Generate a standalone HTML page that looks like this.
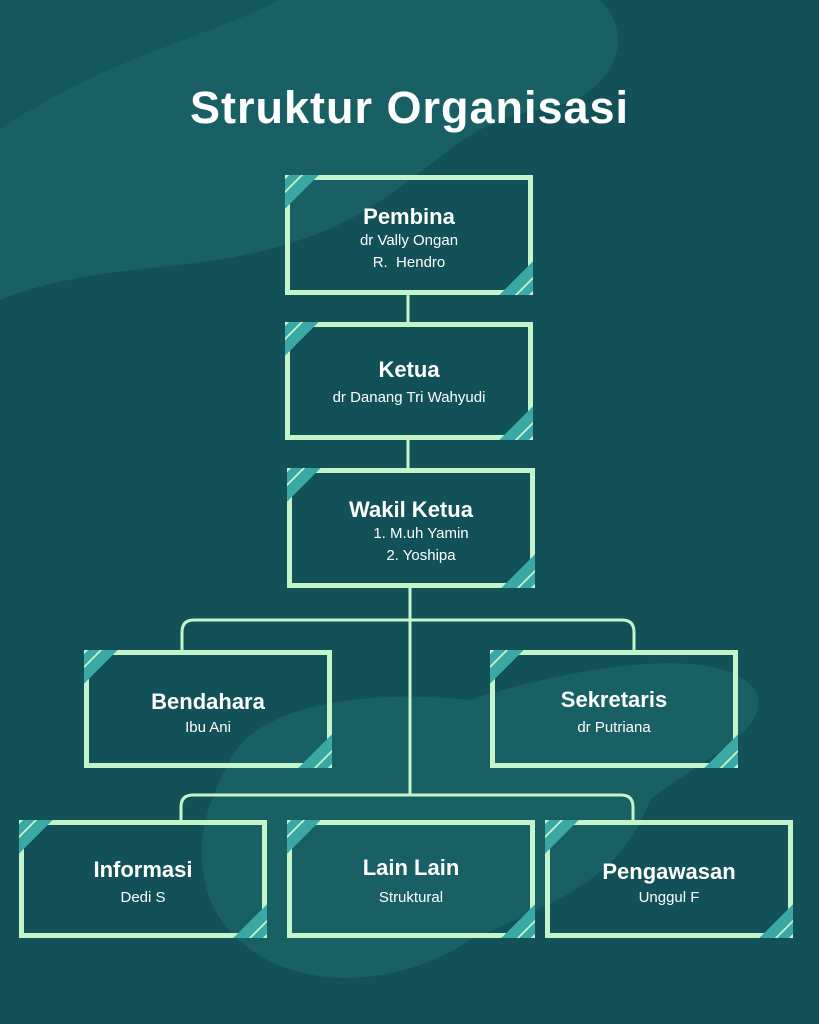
<!DOCTYPE html>
<html><head><meta charset="utf-8"><style>
body{margin:0;width:819px;height:1024px;overflow:hidden;background:#125157;font-family:"Liberation Sans",sans-serif;}
.t{position:absolute;left:0;width:819px;top:82px;text-align:center;color:#fff;font-weight:bold;font-size:45px;letter-spacing:1px;}
.b{position:absolute;box-sizing:border-box;border:5px solid #c4f5c8;width:248px;height:118px;color:#fff;text-align:center;}
.b h{display:block;font-weight:bold;font-size:22px;position:relative;}
.b s{display:block;text-decoration:none;font-size:15px;line-height:22px;position:relative;}
.c1{position:absolute;left:-5px;top:-5px;width:50px;height:50px;background:linear-gradient(135deg,transparent 0 3px,#3aa8a4 3px 11px,#c4f5c8 11px 13px,#3aa8a4 13px 24px,transparent 24px);}
.c2{position:absolute;right:-5px;bottom:-5px;width:50px;height:50px;background:linear-gradient(315deg,transparent 0 3px,#3aa8a4 3px 11px,#c4f5c8 11px 13px,#3aa8a4 13px 24px,transparent 24px);}
</style></head><body>
<svg width="819" height="1024" style="position:absolute;left:0;top:0">
<path d="M0 0 H600 C640 40 610 100 540 110 C450 120 420 200 300 240 C200 275 100 260 0 300 Z" fill="#186064"/>
<path d="M0 0 H280 C200 40 100 60 0 130 Z" fill="#125157" opacity="0.6"/>
<path d="M230 760 C260 700 380 690 470 700 C560 670 720 640 755 690 C775 730 700 760 650 800 C620 880 560 900 470 940 C380 1000 250 990 210 900 C190 840 210 800 230 760 Z" fill="#186064"/>
<g stroke="#c4f5c8" stroke-width="3" fill="none">
<line x1="408" y1="295" x2="408" y2="322"/>
<line x1="408" y1="440" x2="408" y2="468"/>
<line x1="410" y1="588" x2="410" y2="795"/>
<path d="M182 650 V632 Q182 620 194 620 H622 Q634 620 634 632 V650"/>
<path d="M181 820 V807 Q181 795 193 795 H621 Q633 795 633 807 V820"/>
</g></svg>
<div class="t">Struktur Organisasi</div>
<div class="b" style="left:285px;top:175px;height:120px;padding-top:24px"><div class="c1"></div><div class="c2"></div><h>Pembina</h><s>dr Vally Ongan</s><s>R.&nbsp; Hendro</s></div>
<div class="b" style="left:285px;top:322px;padding-top:30px"><div class="c1"></div><div class="c2"></div><h>Ketua</h><s style="margin-top:4px">dr Danang Tri Wahyudi</s></div>
<div class="b" style="left:287px;top:468px;height:120px;padding-top:24px"><div class="c1"></div><div class="c2"></div><h>Wakil Ketua</h><s style="padding-left:20px">1. M.uh Yamin</s><s style="padding-left:20px">2. Yoshipa</s></div>
<div class="b" style="left:84px;top:650px;padding-top:34px"><div class="c1"></div><div class="c2"></div><h>Bendahara</h><s style="margin-top:2px">Ibu Ani</s></div>
<div class="b" style="left:490px;top:650px;padding-top:32px"><div class="c1"></div><div class="c2"></div><h>Sekretaris</h><s style="margin-top:4px">dr Putriana</s></div>
<div class="b" style="left:19px;top:820px;padding-top:32px"><div class="c1"></div><div class="c2"></div><h>Informasi</h><s style="margin-top:4px">Dedi S</s></div>
<div class="b" style="left:287px;top:820px;padding-top:30px"><div class="c1"></div><div class="c2"></div><h>Lain Lain</h><s style="margin-top:6px">Struktural</s></div>
<div class="b" style="left:545px;top:820px;padding-top:34px"><div class="c1"></div><div class="c2"></div><h>Pengawasan</h><s style="margin-top:2px">Unggul F</s></div>
</body></html>
